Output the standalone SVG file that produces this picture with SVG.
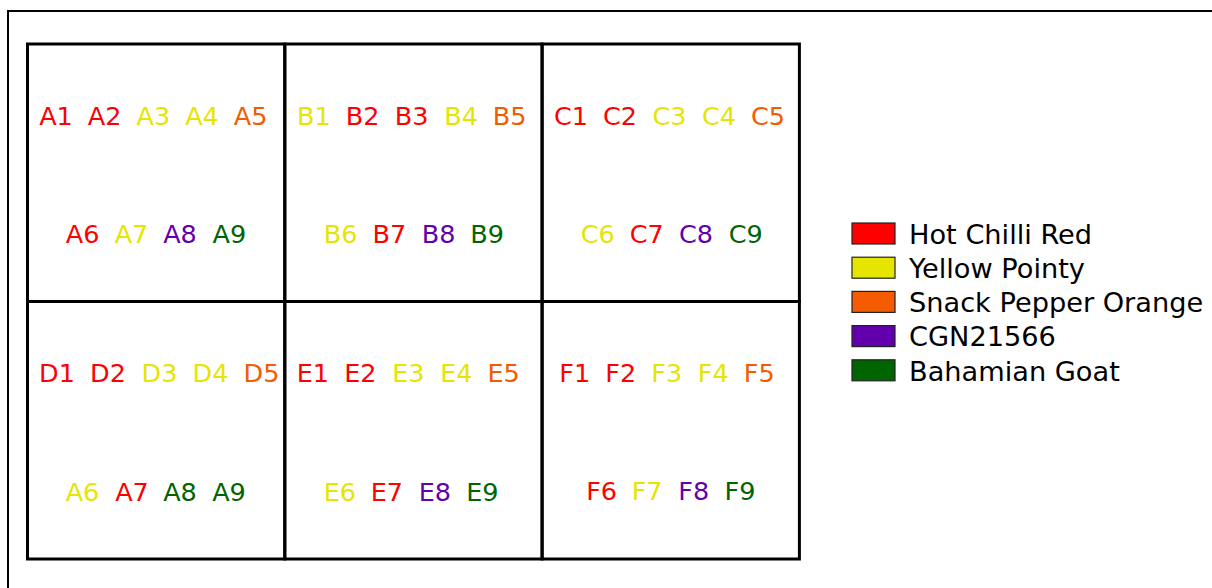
<svg xmlns="http://www.w3.org/2000/svg" width="1212" height="588" viewBox="0 0 1212 588">
<style>
text{font-family:"DejaVu Sans","Liberation Sans",sans-serif}
.lb{font-size:25.5px;text-anchor:middle}
.lg{font-size:27.2px;fill:#000}
.cell{fill:none;stroke:#000;stroke-width:3}
.sw{stroke:#222;stroke-width:1.2}
.r{fill:#ff0000}.y{fill:#e5e500}.o{fill:#f55b00}.p{fill:#6300ad}.g{fill:#006400}
</style>
<rect width="1212" height="588" fill="#fff"/>
<rect x="8" y="11" width="1300" height="700" fill="none" stroke="#000" stroke-width="2"/>
<g id="cell-A">
<rect class="cell" x="27.5" y="44" width="257.3" height="257.5"/>
<text class="lb r" x="56" y="125">A1</text><text class="lb r" x="104.7" y="125">A2</text><text class="lb y" x="153.3" y="125">A3</text><text class="lb y" x="202" y="125">A4</text><text class="lb o" x="250.6" y="125">A5</text>
<text class="lb r" x="82.7" y="243">A6</text><text class="lb y" x="131.5" y="243">A7</text><text class="lb p" x="180" y="243">A8</text><text class="lb g" x="229.3" y="243">A9</text>
</g>
<g id="cell-B">
<rect class="cell" x="284.8" y="44" width="257.3" height="257.5"/>
<text class="lb y" x="313.8" y="125">B1</text><text class="lb r" x="362.7" y="125">B2</text><text class="lb r" x="411.5" y="125">B3</text><text class="lb y" x="461" y="125">B4</text><text class="lb o" x="509.7" y="125">B5</text>
<text class="lb y" x="340.5" y="243">B6</text><text class="lb r" x="389.3" y="243">B7</text><text class="lb p" x="438.7" y="243">B8</text><text class="lb g" x="487.2" y="243">B9</text>
</g>
<g id="cell-C">
<rect class="cell" x="542.1" y="44" width="257.3" height="257.5"/>
<text class="lb r" x="571" y="125">C1</text><text class="lb r" x="620" y="125">C2</text><text class="lb y" x="669.5" y="125">C3</text><text class="lb y" x="719" y="125">C4</text><text class="lb o" x="768" y="125">C5</text>
<text class="lb y" x="597.7" y="243">C6</text><text class="lb r" x="646.8" y="243">C7</text><text class="lb p" x="696" y="243">C8</text><text class="lb g" x="745.7" y="243">C9</text>
</g>
<g id="cell-D">
<rect class="cell" x="27.5" y="301.5" width="257.3" height="257.5"/>
<text class="lb r" x="57" y="382">D1</text><text class="lb r" x="108" y="382">D2</text><text class="lb y" x="159.5" y="382">D3</text><text class="lb y" x="210.5" y="382">D4</text><text class="lb o" x="261.5" y="382">D5</text>
<text class="lb y" x="82.5" y="500.5">A6</text><text class="lb r" x="132" y="500.5">A7</text><text class="lb g" x="180" y="500.5">A8</text><text class="lb g" x="229" y="500.5">A9</text>
</g>
<g id="cell-E">
<rect class="cell" x="284.8" y="301.5" width="257.3" height="257.5"/>
<text class="lb r" x="312.8" y="382">E1</text><text class="lb r" x="360.3" y="382">E2</text><text class="lb y" x="408.3" y="382">E3</text><text class="lb y" x="456.3" y="382">E4</text><text class="lb o" x="503.6" y="382">E5</text>
<text class="lb y" x="339.8" y="500.5">E6</text><text class="lb r" x="386.8" y="500.5">E7</text><text class="lb p" x="434.8" y="500.5">E8</text><text class="lb g" x="482.3" y="500.5">E9</text>
</g>
<g id="cell-F">
<rect class="cell" x="542.1" y="301.5" width="257.3" height="257.5"/>
<text class="lb r" x="574.8" y="382">F1</text><text class="lb r" x="620.8" y="382">F2</text><text class="lb y" x="666.8" y="382">F3</text><text class="lb y" x="713.3" y="382">F4</text><text class="lb o" x="759.3" y="382">F5</text>
<text class="lb r" x="601.6" y="500">F6</text><text class="lb y" x="647.1" y="500">F7</text><text class="lb p" x="693.8" y="500">F8</text><text class="lb g" x="740" y="500">F9</text>
</g>
<g id="legend">
<rect class="sw r" x="852" y="223" width="43" height="21"/>
<rect class="sw y" x="852" y="257.2" width="43" height="21"/>
<rect class="sw o" x="852" y="291.4" width="43" height="21"/>
<rect class="sw p" x="852" y="325.6" width="43" height="21"/>
<rect class="sw g" x="852" y="359.8" width="43" height="21"/>
<text class="lg" x="909" y="243.8">Hot Chilli Red</text>
<text class="lg" x="909" y="278">Yellow Pointy</text>
<text class="lg" x="909" y="312.2">Snack Pepper Orange</text>
<text class="lg" x="909" y="346.4">CGN21566</text>
<text class="lg" x="909" y="380.6">Bahamian Goat</text>
</g>
</svg>
